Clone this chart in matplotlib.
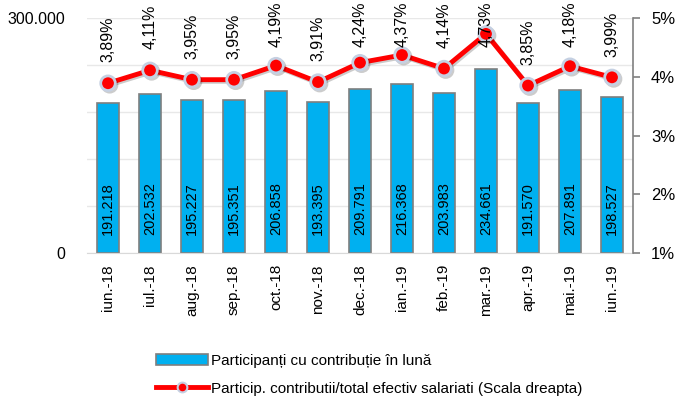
import matplotlib
matplotlib.use('Agg')
import matplotlib.pyplot as plt
import matplotlib.patheffects as pe
from matplotlib.patches import Patch
from matplotlib.lines import Line2D

plt.rcParams['font.family'] = ['Liberation Sans Narrow', 'Liberation Sans', 'DejaVu Sans']

months = ['iun.-18', 'iul.-18', 'aug.-18', 'sep.-18', 'oct.-18', 'nov.-18', 'dec.-18',
          'ian.-19', 'feb.-19', 'mar.-19', 'apr.-19', 'mai.-19', 'iun.-19']
participants = [191218, 202532, 195227, 195351, 206858, 193395, 209791,
                216368, 203983, 234661, 191570, 207891, 198527]
share_pct = [3.89, 4.11, 3.95, 3.95, 4.19, 3.91, 4.24, 4.37, 4.14, 4.73, 3.85, 4.18, 3.99]

bar_label = 'Participanți cu contribuție în lună'
line_label = 'Particip. contributii/total efectiv salariati (Scala dreapta)'


def fmt_thousands(v):
    return f'{v:,}'.replace(',', '.')


fig = plt.figure(figsize=(6.81, 4.0), dpi=100)
ax = fig.add_axes([87 / 681, 1 - 253 / 400, (633 - 87) / 681, (253 - 18) / 400])
x = list(range(len(months)))

ax.bar(x, participants, width=0.53, color='#00b0f0', edgecolor='#7f7f7f', linewidth=1.2, zorder=2)
for xi, v in zip(x, participants):
    ax.annotate(fmt_thousands(v), (xi, 0), xytext=(0, 13), textcoords='offset points',
                rotation=90, ha='center', va='bottom', fontsize=10.5, color='black', zorder=3)

ax.set_xlim(-0.5, 12.5)
ax.set_ylim(0, 300000)
ax.set_yticks([0, 60000, 120000, 180000, 240000, 300000])
ax.set_yticklabels(['0', '', '', '', '', '300.000'], fontsize=11.5)
ax.tick_params(axis='y', length=0, pad=16)
ax.grid(axis='y', color='#e8e8e8', linewidth=1, zorder=0)
ax.set_axisbelow(True)
ax.set_xticks(x)
ax.set_xticklabels(months, rotation=90, fontsize=11)
ax.tick_params(axis='x', length=0, pad=8)
for s in ['top', 'left', 'right']:
    ax.spines[s].set_visible(False)
ax.spines['bottom'].set_color('#d9d9d9')

ax2 = ax.twinx()
ax2.plot(x, share_pct, color='#ff0000', linewidth=3.5, marker='o', markersize=10.5,
         markerfacecolor='#ff0000', markeredgecolor='#c5d0e2', markeredgewidth=2, zorder=4,
         path_effects=[pe.SimpleLineShadow(offset=(1.2, -1.2), alpha=0.2), pe.Normal()])
ax2.set_ylim(1, 5)

# percentage labels above the points; if a label would run past the top of the
# figure, pin it to the top edge instead (like Excel does)
fig.canvas.draw()
renderer = fig.canvas.get_renderer()
fig_h = fig.bbox.height
for xi, v in zip(x, share_pct):
    txt = f'{v:.2f}%'.replace('.', ',')
    ann = ax2.annotate(txt, (xi, v), xytext=(0, 15), textcoords='offset points',
                       rotation=90, ha='center', va='bottom', fontsize=11.5,
                       annotation_clip=False)
    bb = ann.get_window_extent(renderer)
    if bb.y1 > fig_h - 1:
        ann.remove()
        ax2.annotate(txt, (xi, v), xytext=(xi, 0.997), textcoords=('data', 'figure fraction'),
                     rotation=90, ha='center', va='top', fontsize=11.5,
                     annotation_clip=False, zorder=5)

ax2.set_yticks([1, 2, 3, 4, 5])
ax2.set_yticklabels(['1%', '2%', '3%', '4%', '5%'], fontsize=12)
ax2.tick_params(axis='y', length=5, color='#808080', width=1.2, pad=8)
for s in ['top', 'left', 'bottom']:
    ax2.spines[s].set_visible(False)
ax2.spines['right'].set_color('#808080')
ax2.spines['right'].set_linewidth(1.2)

handles = [
    Patch(facecolor='#00b0f0', edgecolor='#7f7f7f', linewidth=1.2),
    Line2D([0], [0], color='#ff0000', linewidth=3.5, marker='o', markersize=7,
           markerfacecolor='#ff0000', markeredgecolor='#c5d0e2', markeredgewidth=1.5),
]
fig.legend(handles, [bar_label, line_label], loc='upper left',
           bbox_to_anchor=(142 / 681, 1 - 340 / 400), frameon=False, fontsize=11,
           handlelength=3.4, handleheight=0.8, handletextpad=0.2, labelspacing=0.9)

fig.savefig('out.png', dpi=100)
